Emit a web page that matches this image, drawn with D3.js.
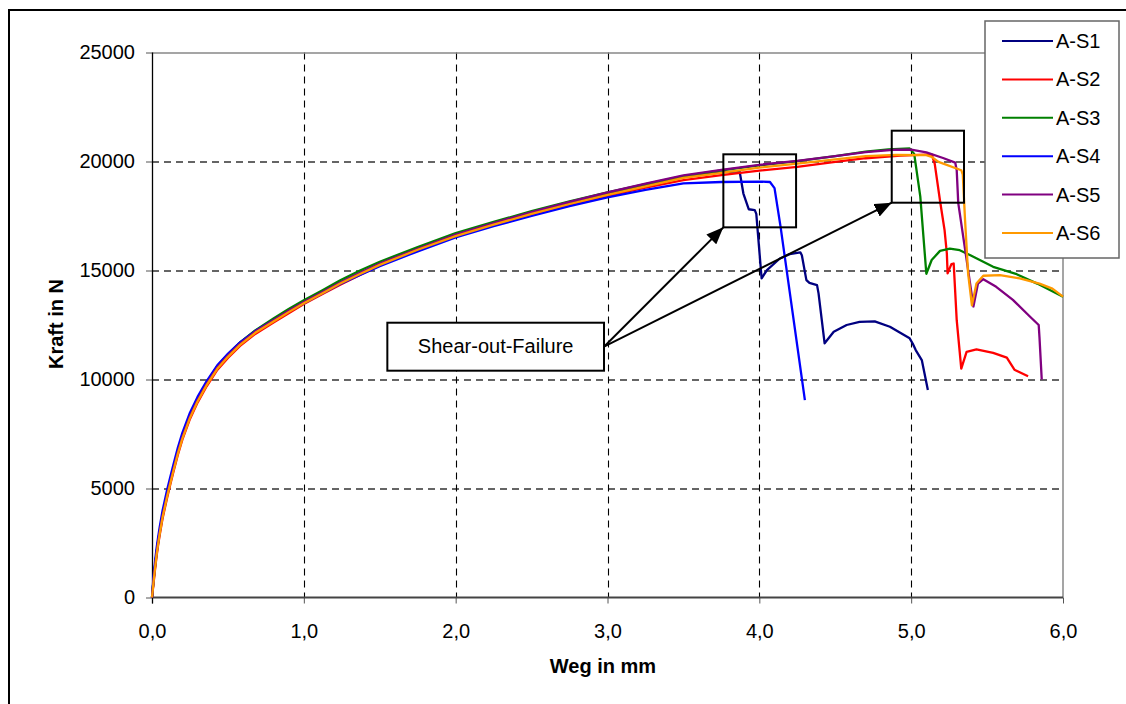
<!DOCTYPE html>
<html>
<head>
<meta charset="utf-8">
<script src="https://cdn.jsdelivr.net/npm/d3@7"></script>
<style>
  body { margin: 0; background: #fff; }
  svg { display: block; font-family: "Liberation Sans", Arial, sans-serif; }
</style>
</head>
<body>
<div id="chart"></div>
<script>
// Kraft-Weg curves: [Weg in mm, Kraft in N]
const seriesNames = ["A-S1", "A-S2", "A-S3", "A-S4", "A-S5", "A-S6"];
const seriesColors = ["#000080", "#ff0000", "#008000", "#0000ff", "#800080", "#ff9900"];

const aS1 = [[0,0],[0.01,810],[0.02,1460],[0.03,2060],[0.04,2560],[0.05,3010],[0.07,3810],[0.1,4760],[0.12,5340],[0.14,5900],[0.17,6710],[0.2,7410],[0.25,8360],[0.3,9110],[0.36,9860],[0.43,10610],[0.5,11160],[0.58,11690],[0.68,12230],[0.8,12750],[0.9,13180],[1.0,13570],[1.12,14020],[1.24,14450],[1.37,14880],[1.5,15300],[1.75,15980],[2.0,16620],[2.25,17150],[2.5,17650],[2.75,18100],[3.0,18520],[3.25,18920],[3.5,19280],[3.75,19500],[3.87,19550],[3.895,18530],[3.93,17810],[3.97,17770],[3.98,17600],[4.015,14640],[4.05,15020],[4.135,15550],[4.2,15750],[4.27,15830],[4.28,15700],[4.31,14560],[4.33,14430],[4.38,14330],[4.39,13950],[4.43,11660],[4.49,12190],[4.575,12500],[4.66,12640],[4.76,12670],[4.86,12420],[4.99,11890],[5.01,11650],[5.03,11350],[5.07,10890],[5.11,9520]];
const aS2 = [[0,0],[0.01,640],[0.02,1290],[0.03,1890],[0.04,2390],[0.05,2840],[0.07,3640],[0.1,4590],[0.12,5170],[0.14,5730],[0.17,6540],[0.2,7240],[0.25,8190],[0.3,8940],[0.36,9690],[0.43,10440],[0.5,10990],[0.58,11540],[0.68,12090],[0.8,12610],[0.9,13040],[1.0,13460],[1.12,13910],[1.24,14350],[1.37,14800],[1.5,15230],[1.75,15930],[2.0,16560],[2.25,17080],[2.5,17560],[2.75,18000],[3.0,18420],[3.25,18800],[3.5,19150],[3.75,19380],[4.0,19580],[4.25,19750],[4.5,19980],[4.7,20150],[4.93,20270],[5.135,20330],[5.155,19900],[5.19,18200],[5.22,16850],[5.235,15780],[5.24,14870],[5.265,15290],[5.28,15320],[5.3,12720],[5.33,10500],[5.365,11270],[5.43,11380],[5.54,11220],[5.63,11000],[5.68,10450],[5.77,10150]];
const aS3 = [[0,0],[0.01,800],[0.02,1450],[0.03,2050],[0.04,2550],[0.05,3000],[0.07,3800],[0.1,4750],[0.12,5330],[0.14,5890],[0.17,6700],[0.2,7400],[0.25,8350],[0.3,9100],[0.36,9850],[0.43,10600],[0.5,11150],[0.58,11700],[0.68,12250],[0.8,12800],[0.9,13230],[1.0,13630],[1.12,14080],[1.24,14550],[1.37,15000],[1.5,15400],[1.75,16080],[2.0,16720],[2.25,17230],[2.5,17720],[2.75,18170],[3.0,18580],[3.25,18960],[3.5,19330],[3.75,19590],[4.0,19820],[4.25,20020],[4.5,20250],[4.7,20450],[4.85,20560],[4.99,20600],[5.02,20350],[5.06,18400],[5.1,14850],[5.135,15480],[5.19,15900],[5.255,16000],[5.32,15930],[5.39,15700],[5.54,15170],[5.695,14830],[5.83,14400],[6.0,13800]];
const aS4 = [[0,0],[0.01,950],[0.02,1650],[0.03,2250],[0.04,2750],[0.05,3200],[0.07,4000],[0.1,4950],[0.12,5520],[0.14,6070],[0.17,6870],[0.2,7550],[0.25,8480],[0.3,9200],[0.36,9930],[0.43,10650],[0.5,11180],[0.58,11700],[0.68,12220],[0.8,12720],[0.9,13120],[1.0,13500],[1.12,13950],[1.24,14380],[1.37,14800],[1.5,15200],[1.75,15880],[2.0,16520],[2.25,17030],[2.5,17500],[2.75,17950],[3.0,18350],[3.25,18700],[3.5,19000],[3.75,19060],[4.0,19080],[4.07,19060],[4.1,18780],[4.14,17000],[4.3,9050]];
const aS5 = [[0,0],[0.01,750],[0.02,1400],[0.03,2000],[0.04,2500],[0.05,2950],[0.07,3750],[0.1,4700],[0.12,5280],[0.14,5840],[0.17,6650],[0.2,7350],[0.25,8300],[0.3,9050],[0.36,9800],[0.43,10550],[0.5,11100],[0.58,11650],[0.68,12200],[0.8,12720],[0.9,13150],[1.0,13550],[1.12,14000],[1.24,14450],[1.37,14900],[1.5,15320],[1.75,16000],[2.0,16650],[2.25,17180],[2.5,17680],[2.75,18150],[3.0,18580],[3.25,18980],[3.5,19360],[3.75,19620],[4.0,19850],[4.25,20030],[4.5,20250],[4.7,20430],[4.9,20540],[5.0,20540],[5.1,20420],[5.21,20160],[5.29,19950],[5.3,19600],[5.31,18100],[5.365,15500],[5.41,13350],[5.44,14400],[5.475,14600],[5.56,14250],[5.67,13650],[5.78,12900],[5.84,12500],[5.845,11950],[5.86,10000]];
const aS6 = [[0,0],[0.01,690],[0.02,1340],[0.03,1940],[0.04,2440],[0.05,2890],[0.07,3690],[0.1,4640],[0.12,5220],[0.14,5780],[0.17,6590],[0.2,7290],[0.25,8240],[0.3,8990],[0.36,9740],[0.43,10490],[0.5,11040],[0.58,11590],[0.68,12140],[0.8,12660],[0.9,13090],[1.0,13500],[1.12,13950],[1.24,14400],[1.37,14840],[1.5,15260],[1.75,15950],[2.0,16580],[2.25,17100],[2.5,17600],[2.75,18050],[3.0,18470],[3.25,18860],[3.5,19250],[3.75,19480],[4.0,19720],[4.25,19900],[4.5,20100],[4.7,20250],[4.9,20300],[5.1,20290],[5.135,20210],[5.18,19980],[5.33,19600],[5.34,19400],[5.355,17300],[5.375,14870],[5.4,13400],[5.43,14400],[5.475,14760],[5.585,14790],[5.715,14640],[5.845,14400],[5.93,14170],[6.0,13800]];

const xTicks = [0, 1, 2, 3, 4, 5, 6];
const yTicks = [0, 5000, 10000, 15000, 20000, 25000];

// annotation boxes in data units [x0, x1, yTop, yBottom]
const boxLeft  = [3.763, 4.242, 20330, 16980];
const boxRight = [4.872, 5.348, 21413, 18110];
const noteBox  = [1.55, 2.977, 12605, 10404];
const noteText = "Shear-out-Failure";

(function() {
    const W = 1126, H = 704;
    const margin = {top: 52.5, right: 63, bottom: 106.5, left: 152};
    const width = W - margin.left - margin.right;
    const height = H - margin.top - margin.bottom;

    const svg = d3.select("#chart").append("svg")
        .attr("width", W)
        .attr("height", H);

    svg.append("rect").attr("width", W).attr("height", H).attr("fill", "#fff");
    // outer chart frame
    svg.append("rect")
        .attr("x", 9).attr("y", 10)
        .attr("width", 1140).attr("height", 720)
        .attr("fill", "none").attr("stroke", "#000").attr("stroke-width", 2);

    const g = svg.append("g").attr("transform", `translate(${margin.left},${margin.top})`);

    const x = d3.scaleLinear().domain([0, 6]).range([0, width]);
    const y = d3.scaleLinear().domain([0, 25000]).range([height, 0]);

    // gridlines
    g.selectAll(".hgrid")
        .data(yTicks.filter(d => d > 0 && d < 25000))
        .enter().append("line")
        .attr("x1", 0).attr("x2", width)
        .attr("y1", d => Math.round(y(d)) + 0.5).attr("y2", d => Math.round(y(d)) + 0.5)
        .attr("stroke", "#333").attr("stroke-width", 1.3)
        .attr("stroke-dasharray", "7,5");

    g.selectAll(".vgrid")
        .data(xTicks.filter(d => d > 0 && d < 6))
        .enter().append("line")
        .attr("x1", d => Math.round(x(d)) + 0.5).attr("x2", d => Math.round(x(d)) + 0.5)
        .attr("y1", 0).attr("y2", height)
        .attr("stroke", "#000").attr("stroke-width", 1.1)
        .attr("stroke-dasharray", "7,5");

    // plot border top / right
    g.append("path")
        .attr("d", `M0,0.5H${width}V${height}`)
        .attr("fill", "none").attr("stroke", "#888").attr("stroke-width", 1.5);

    // axes
    const yAxis = g.append("g")
        .call(d3.axisLeft(y).tickValues(yTicks).tickSize(6).tickPadding(11).tickFormat(d3.format("d")));
    const xAxis = g.append("g")
        .attr("transform", `translate(0,${height})`)
        .call(d3.axisBottom(x).tickValues(xTicks).tickSize(6).tickPadding(20)
            .tickFormat(d => d.toFixed(1).replace(".", ",")));

    [yAxis, xAxis].forEach(a => {
        a.select(".domain").remove();
        a.selectAll("line").attr("stroke", "#555");
        a.selectAll("text")
            .attr("font-family", '"Liberation Sans", Arial, sans-serif')
            .attr("font-size", 20)
            .attr("fill", "#000");
    });

    g.append("line")
        .attr("x1", 0).attr("x2", width).attr("y1", height).attr("y2", height)
        .attr("stroke", "#444").attr("stroke-width", 1.8);
    g.append("line")
        .attr("x1", 0.5).attr("x2", 0.5).attr("y1", 0).attr("y2", height + 6)
        .attr("stroke", "#000").attr("stroke-width", 1.3);

    // curves
    const line = d3.line().x(d => x(d[0])).y(d => y(d[1]));
    const allSeries = [aS1, aS2, aS3, aS4, aS5, aS6];

    g.selectAll(".curve")
        .data(allSeries)
        .enter().append("path")
        .attr("class", "curve")
        .attr("d", line)
        .attr("fill", "none")
        .attr("stroke", (d, i) => seriesColors[i])
        .attr("stroke-width", 2.3)
        .attr("stroke-linejoin", "round");

    // axis titles
    svg.append("text")
        .attr("transform", "translate(63,324) rotate(-90)")
        .attr("text-anchor", "middle")
        .attr("font-size", 20).attr("font-weight", "bold")
        .text("Kraft in N");
    svg.append("text")
        .attr("x", 603).attr("y", 672.5)
        .attr("text-anchor", "middle")
        .attr("font-size", 20).attr("font-weight", "bold")
        .text("Weg in mm");

    // annotation: boxes + arrows
    svg.append("defs").append("marker")
        .attr("id", "arrow")
        .attr("markerUnits", "userSpaceOnUse")
        .attr("markerWidth", 18).attr("markerHeight", 14)
        .attr("refX", 17).attr("refY", 7)
        .attr("orient", "auto")
        .append("path")
        .attr("d", "M0,0L17,7L0,14Z")
        .attr("fill", "#000");

    [boxLeft, boxRight].forEach(b => {
        g.append("rect")
            .attr("x", x(b[0])).attr("y", y(b[2]))
            .attr("width", x(b[1]) - x(b[0])).attr("height", y(b[3]) - y(b[2]))
            .attr("fill", "none").attr("stroke", "#000").attr("stroke-width", 2);
    });

    const nx = x(noteBox[1]), ny = (y(noteBox[2]) + y(noteBox[3])) / 2;
    [boxLeft, boxRight].forEach(b => {
        g.append("line")
            .attr("x1", nx).attr("y1", ny)
            .attr("x2", x(b[0])).attr("y2", y(b[3]))
            .attr("stroke", "#000").attr("stroke-width", 2)
            .attr("marker-end", "url(#arrow)");
    });

    g.append("rect")
        .attr("x", x(noteBox[0])).attr("y", y(noteBox[2]))
        .attr("width", x(noteBox[1]) - x(noteBox[0])).attr("height", y(noteBox[3]) - y(noteBox[2]))
        .attr("fill", "#fff").attr("stroke", "#000").attr("stroke-width", 2);
    g.append("text")
        .attr("x", (x(noteBox[0]) + x(noteBox[1])) / 2)
        .attr("y", ny + 6)
        .attr("text-anchor", "middle")
        .attr("font-size", 20)
        .text(noteText);

    // legend
    const legend = svg.append("g");
    legend.append("rect")
        .attr("x", 985).attr("y", 21)
        .attr("width", 134).attr("height", 237)
        .attr("fill", "#fff").attr("stroke", "#666").attr("stroke-width", 1.5);

    const rows = legend.selectAll(".row")
        .data(seriesNames)
        .enter().append("g")
        .attr("transform", (d, i) => `translate(0,${41 + i * 38.4})`);
    rows.append("line")
        .attr("x1", 1002).attr("x2", 1053)
        .attr("stroke", (d, i) => seriesColors[i]).attr("stroke-width", 2);
    rows.append("text")
        .attr("x", 1056).attr("y", 7)
        .attr("font-size", 20)
        .text(d => d);
})();
</script>
</body>
</html>
